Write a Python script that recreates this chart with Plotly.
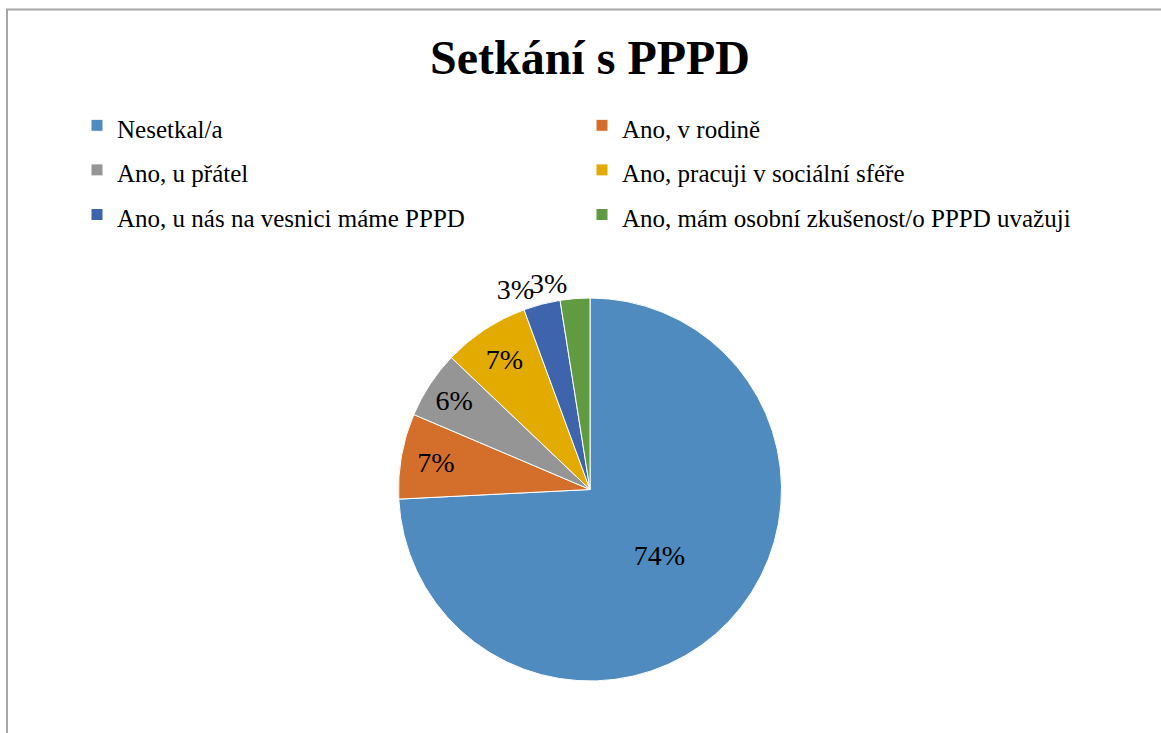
import plotly.graph_objects as go

# share of answers (in %)
categories = [
    "Nesetkal/a",
    "Ano, v rodině",
    "Ano, u přátel",
    "Ano, pracuji v sociální sféře",
    "Ano, u nás na vesnici máme PPPD",
    "Ano, mám osobní zkušenost/o PPPD uvažuji",
]
values = [74.2, 7.2, 5.7, 7.3, 3.1, 2.5]
colors = ["#4F8BBE", "#D46F2B", "#959595", "#E3AA00", "#3D64AD", "#609B41"]

W, H = 1161, 733
serif = "Liberation Serif"
pie_domain = dict(x=[0.2, 0.8164], y=[1 - 681 / H, 1 - 298 / H])

# legend rows in the original are taller than the text, so the label font is set per span
legend_labels = ['<span style="font-size:25px">%s</span>' % c for c in categories]

fig = go.Figure()

# main pie; the last (green) label goes on a second, transparent copy so plotly
# does not push it up with a leader line when it meets its neighbour
fig.add_trace(go.Pie(
    labels=legend_labels,
    values=values,
    sort=False,
    direction="clockwise",
    rotation=0,
    marker=dict(colors=colors, line=dict(color="white", width=1)),
    texttemplate="%{percent:.0%}",
    textposition=["inside", "inside", "inside", "inside", "outside", "none"],
    insidetextorientation="horizontal",
    textfont=dict(family=serif, size=28, color="black"),
    domain=pie_domain,
    hoverinfo="label+percent",
))
fig.add_trace(go.Pie(
    labels=legend_labels,
    values=values,
    sort=False,
    direction="clockwise",
    rotation=0,
    marker=dict(colors=["rgba(0,0,0,0)"] * len(values), line=dict(width=0)),
    texttemplate="%{percent:.0%}",
    textposition=["none", "none", "none", "none", "none", "outside"],
    textfont=dict(family=serif, size=28, color="black"),
    domain=pie_domain,
    showlegend=False,
    hoverinfo="skip",
))

fig.update_layout(
    width=W,
    height=H,
    margin=dict(l=0, r=0, t=0, b=0),
    paper_bgcolor="white",
    font=dict(family=serif, color="black"),
    title=dict(
        text="<b>Setkání s PPPD</b>",
        font=dict(family=serif, size=48, color="black"),
        x=590 / W, xanchor="center",
        y=1 - 57 / H, yanchor="middle",
    ),
    showlegend=True,
    legend=dict(
        orientation="h",
        x=77 / W, xanchor="left",
        y=1 - 98 / H, yanchor="top",
        font=dict(family=serif, size=32, color="black"),
        entrywidth=460,
        entrywidthmode="pixels",
        bgcolor="rgba(0,0,0,0)",
    ),
    shapes=[dict(
        type="rect", xref="paper", yref="paper",
        x0=7 / W, x1=1.02, y0=-0.02, y1=1 - 9.5 / H,
        line=dict(color="#A6A6A6", width=2),
    )],
)

fig.write_html(
    "out.html",
    config={"displayModeBar": False},
    post_script="document.body.style.margin='0';document.body.style.overflow='hidden';",
)
